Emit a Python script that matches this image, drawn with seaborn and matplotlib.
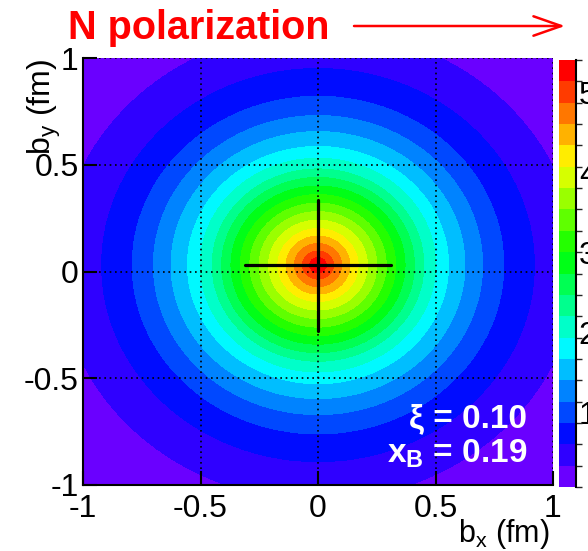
import colorsys
import numpy as np
import matplotlib
matplotlib.use("Agg")
import matplotlib.pyplot as plt
from matplotlib.colors import ListedColormap, BoundaryNorm
import seaborn as sns

# ---- data ----
# radial profile: radius (fm) of each contour boundary and its value
ring_radius = [0.0, 0.035, 0.065, 0.10, 0.135, 0.17, 0.21, 0.25, 0.29, 0.33, 0.37,
               0.41, 0.45, 0.50, 0.555, 0.625, 0.70, 0.79, 0.92, 1.10, 1.45]
ring_value = [5.41, 5.148, 4.881, 4.614, 4.347, 4.080, 3.813, 3.546, 3.279, 3.012, 2.745,
              2.478, 2.211, 1.944, 1.677, 1.410, 1.143, 0.876, 0.609, 0.342, 0.075]
dist_center = [0.0, 0.03]          # centre of the distribution (fm)
cross_halfwidth = [0.31, 0.307]    # half-lengths of the black cross (x, y)
z_min, z_max, n_levels = 0.075, 5.41, 20
axis_ticks = [-1, -0.5, 0, 0.5, 1]
axis_ticklabels = ["-1", "-0.5", "0", "0.5", "1"]
cbar_ticks = [1, 2, 3, 4, 5]
xi_text = "\u03be = 0.10"
xb_text = "x$_{\\mathbf{B}}$ = 0.19"
title_text = "N polarization"

# ---- style ----
sns.set_theme(style="white")
plt.rcParams["font.family"] = ["Liberation Sans", "DejaVu Sans"]
plt.rcParams["mathtext.fontset"] = "custom"
plt.rcParams["mathtext.rm"] = "Liberation Sans"
plt.rcParams["mathtext.bf"] = "Liberation Sans:bold"
plt.rcParams["mathtext.it"] = "Liberation Sans:italic"

W, H = 588, 551
fig = plt.figure(figsize=(W / 100, H / 100), dpi=100)
ax = fig.add_axes([83 / W, 1 - 485 / H, 470 / W, 427 / H])
cax = fig.add_axes([559 / W, 1 - 487 / H, 17 / W, 427 / H])

# field on a grid from the radial profile
gx = np.linspace(-1, 1, 301)
gy = np.linspace(-1, 1, 301)
X, Y = np.meshgrid(gx, gy)
R = np.sqrt((X - dist_center[0]) ** 2 + (Y - dist_center[1]) ** 2)
Z = np.interp(R, np.array(ring_radius), np.array(ring_value))

hues = np.linspace(265, 0, n_levels) / 360.0
colors = [colorsys.hsv_to_rgb(h, 1.0, 1.0) for h in hues]
cmap = ListedColormap(colors)
levels = np.linspace(z_min - 1e-6, z_max, n_levels + 1)
norm = BoundaryNorm(levels, cmap.N)

cs = ax.contourf(X, Y, Z, levels=levels, cmap=cmap, norm=norm, antialiased=False)

# cross
sns.lineplot(x=[dist_center[0] - cross_halfwidth[0], dist_center[0] + cross_halfwidth[0]],
             y=[dist_center[1], dist_center[1]], ax=ax, color="black", lw=2.3,
             sort=False, estimator=None)
sns.lineplot(x=[dist_center[0], dist_center[0]],
             y=[dist_center[1] - cross_halfwidth[1], dist_center[1] + cross_halfwidth[1]],
             ax=ax, color="black", lw=2.3, sort=False, estimator=None)

ax.set_xlim(-1, 1)
ax.set_ylim(-1, 1)
ax.set_xticks(axis_ticks)
ax.set_xticklabels(axis_ticklabels)
ax.set_yticks(axis_ticks)
ax.set_yticklabels(axis_ticklabels)
ax.set_axisbelow(False)
ax.grid(True, linestyle=(0, (1, 2.2)), color="black", linewidth=1.2)
ax.tick_params(axis="both", which="both", direction="in", length=10, width=1.5,
               labelsize=23, colors="black", top=False, right=False,
               bottom=True, left=True)
ax.tick_params(axis="x", pad=6.5)
ax.tick_params(axis="y", pad=3)
for s in ["top", "right"]:
    ax.spines[s].set_visible(False)
for s in ["left", "bottom"]:
    ax.spines[s].set_visible(True)
    ax.spines[s].set_color("black")
    ax.spines[s].set_linewidth(1.5)
ax.set_xlabel("")
ax.set_ylabel("")

# labels inside plot
ax.text(0.89, -0.727, xi_text, ha="right", va="baseline", color="white",
        fontsize=24, fontweight="bold")
ax.text(0.89, -0.896, xb_text, ha="right", va="baseline", color="white",
        fontsize=24, fontweight="bold")

# axis titles
fig.text(550 / W, 1 - 542 / H, "b$_{\\mathregular{x}}$ (fm)", ha="right",
         va="baseline", fontsize=22, color="black")
fig.text(44 / W, 1 - 59 / H, "b$_{\\mathregular{y}}$ (fm)", ha="center",
         va="top", rotation=90, fontsize=23, color="black")

# colorbar
cb = fig.colorbar(cs, cax=cax, ticks=cbar_ticks)
cb.outline.set_visible(False)
cax.spines["right"].set_visible(True)
cax.spines["right"].set_color("black")
cax.spines["right"].set_linewidth(1.5)
cax.tick_params(direction="in", length=9, width=1.5, labelsize=23, pad=2,
                colors="black", right=True, left=False)
cax.set_yticklabels([str(t) for t in cbar_ticks])

# title with arrow
fig.text(68 / W, 1 - 39 / H, title_text, color="#ff0000", fontsize=28.5,
         fontweight="bold", va="baseline", ha="left")
ax.annotate("", xy=(565 / W, 1 - 26 / H), xytext=(354 / W, 1 - 26 / H),
            xycoords="figure fraction", textcoords="figure fraction",
            arrowprops=dict(arrowstyle="->,head_length=2.0,head_width=0.7",
                            color="#ff0000", lw=1.8, mutation_scale=10,
                            shrinkA=0, shrinkB=0))

fig.savefig("out.png", dpi=100)
